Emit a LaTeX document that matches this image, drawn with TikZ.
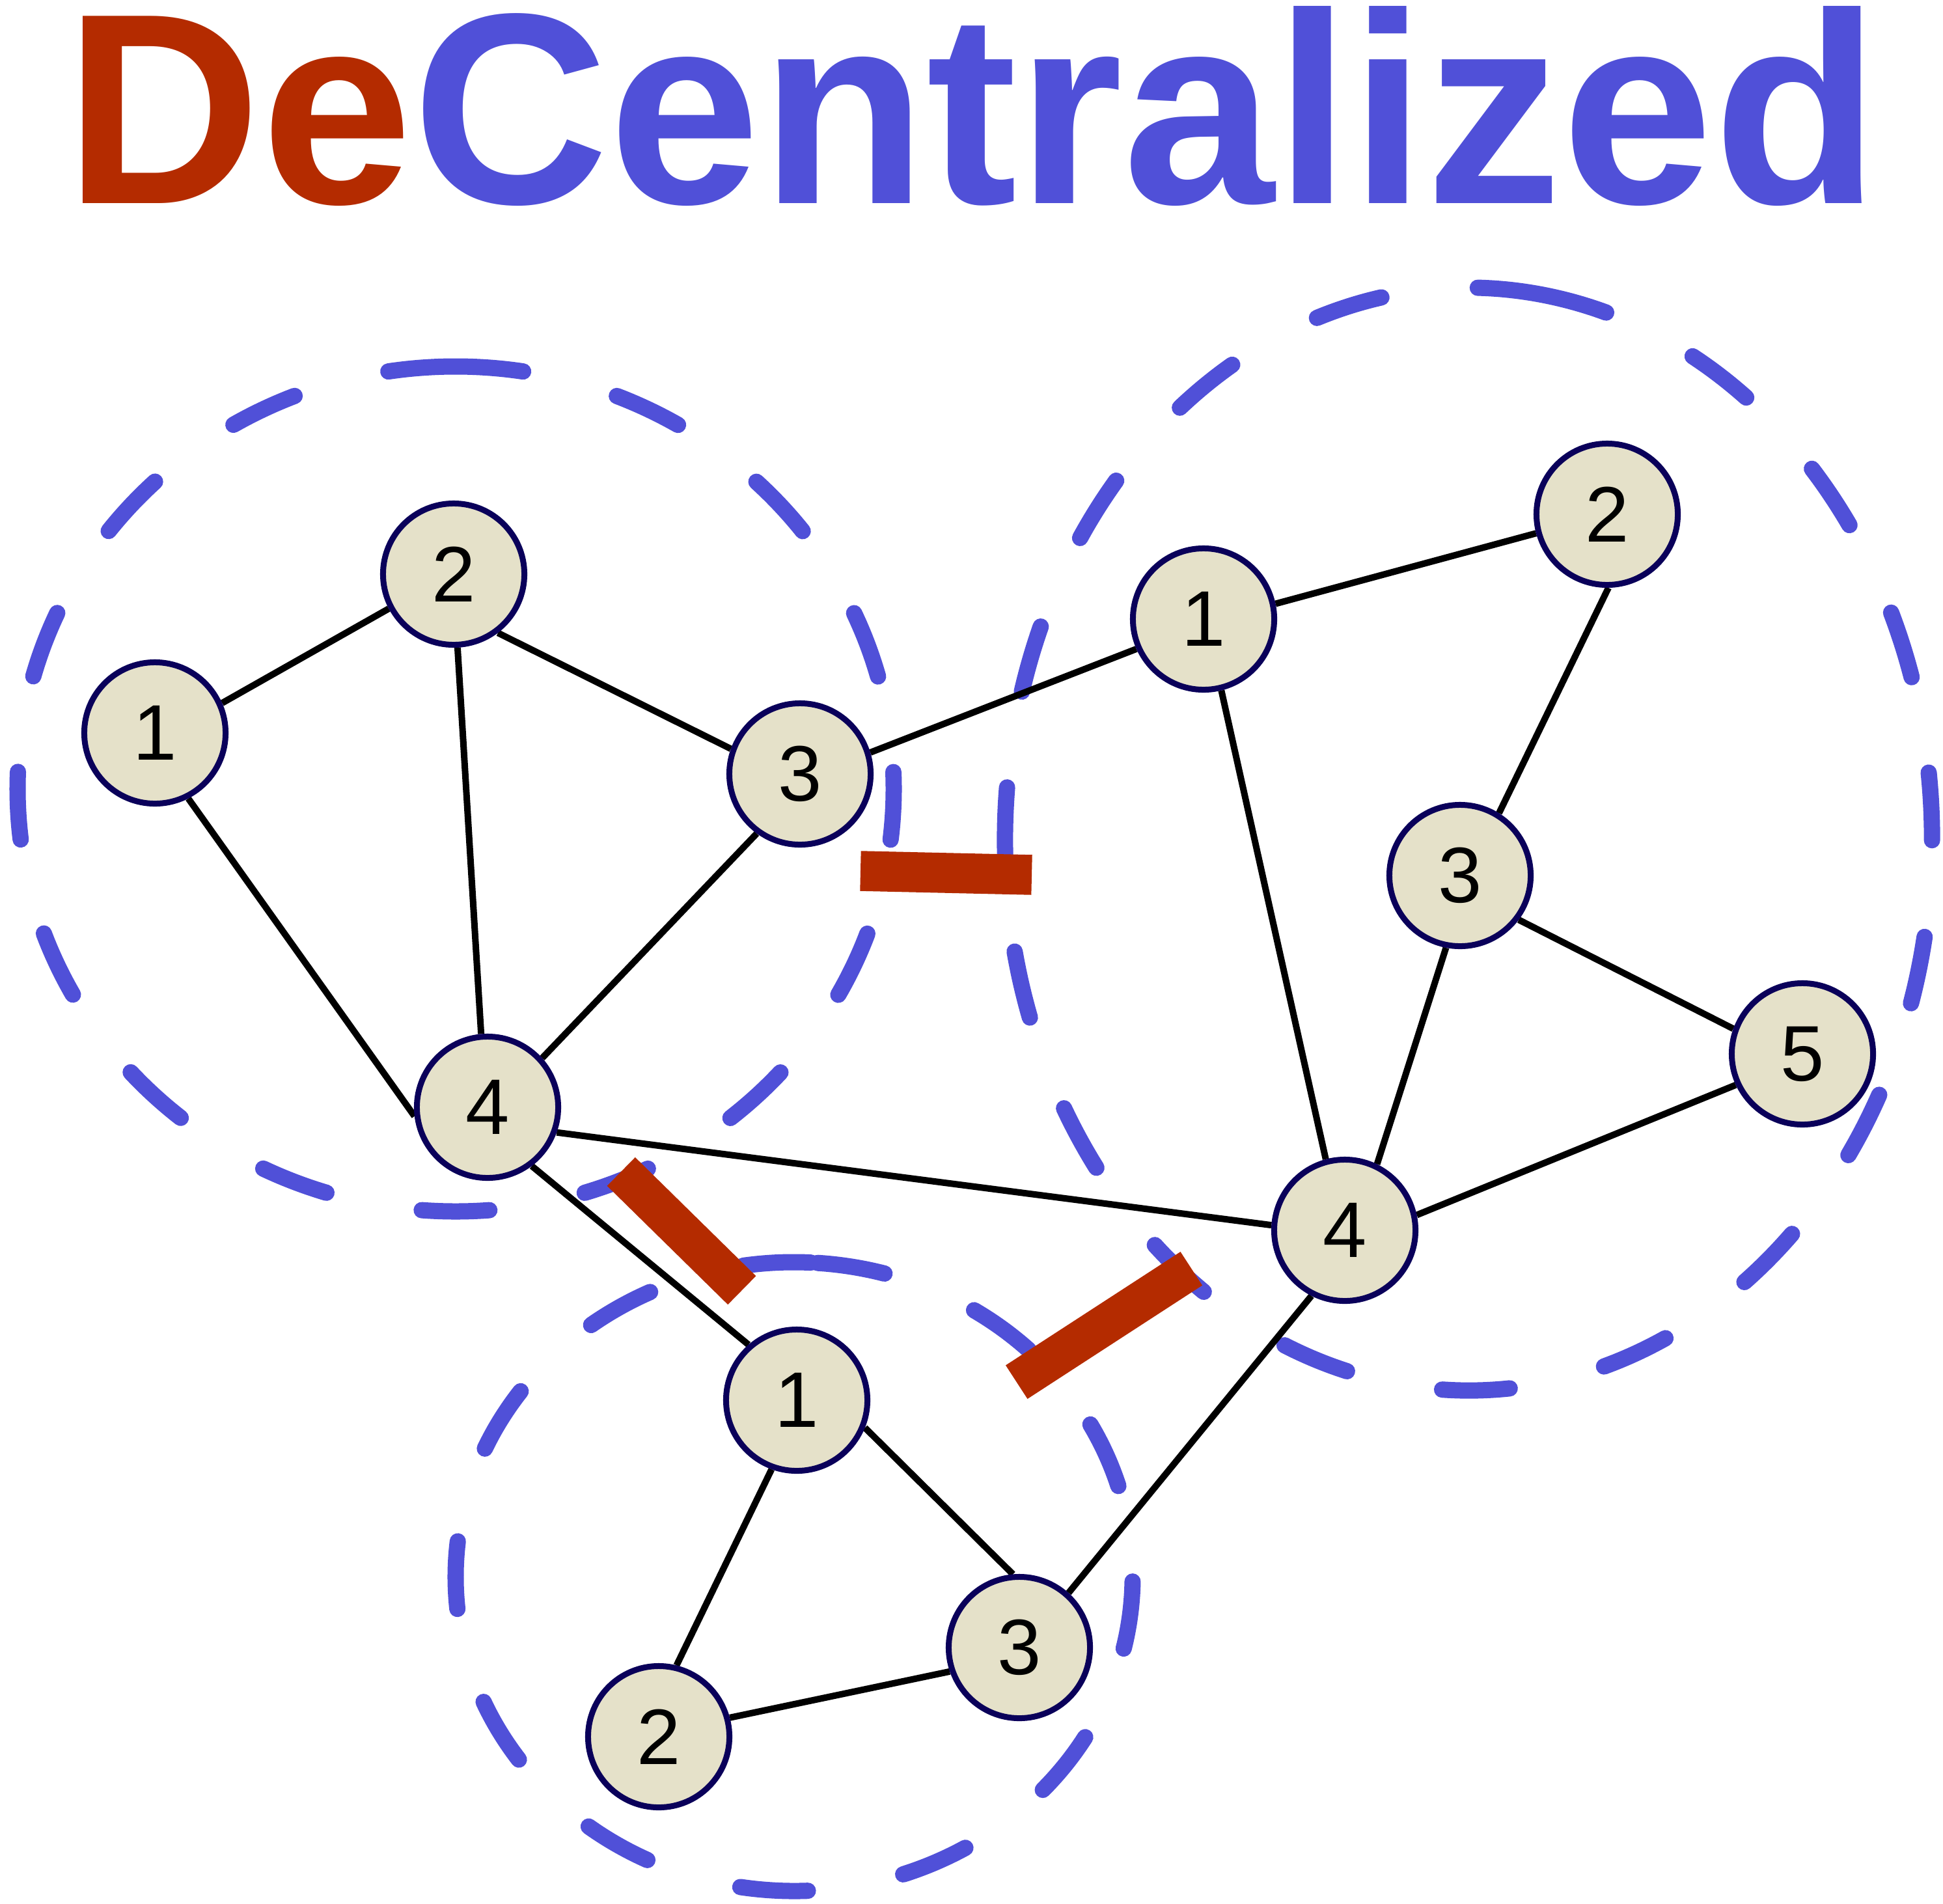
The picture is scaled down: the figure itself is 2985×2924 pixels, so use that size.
\documentclass[tikz,border=0pt]{standalone}
\usepackage{fontspec}
\setmainfont{Liberation Sans}
\definecolor{tred}{RGB}{180,43,0}
\definecolor{tblue}{RGB}{80,80,216}
\definecolor{nfill}{RGB}{229,225,201}
\definecolor{nborder}{RGB}{10,0,90}
\pgfdeclarelayer{bg}
\pgfdeclarelayer{edgelayer}
\pgfdeclarelayer{fg}
\pgfsetlayers{bg,edgelayer,main,fg}
\tikzset{
  netnode/.style={circle, draw=nborder, fill=nfill, line width=0.09cm, minimum size=2.17cm, inner sep=0pt, font=\fontsize{34.4pt}{36pt}\selectfont},
  link/.style={line width=0.1cm, draw=black},
  cluster/.style={draw=tblue, line width=0.25cm, line cap=round, dash pattern=on 1.04cm off 1.49cm},
  cut/.style={fill=tred, inner sep=0pt, outer sep=0pt, minimum height=0.615cm},
}
\begin{document}
\begin{tikzpicture}[x=0.01cm, y=-0.01cm]
\useasboundingbox (0,0) rectangle (2985,2924);
\begin{pgfonlayer}{bg}
  \fill[white] (0,0) rectangle (2985,2924);
  \draw[cluster] (700,1212) ++(-90:673 and 649) arc[start angle=-90, end angle=270, x radius=673, y radius=649];
  \draw[cluster] (2256,1289) ++(-81:712 and 847) arc[start angle=-81, end angle=279, x radius=712, y radius=847];
  \draw[cluster] (1220,2422) ++(-86:520 and 483) arc[start angle=-86, end angle=274, x radius=520, y radius=483];
\end{pgfonlayer}

\node[anchor=base, inner sep=0pt, font=\fontsize{118.9pt}{120pt}\selectfont\bfseries] (title) at (1493.5,312) {\textcolor{tred}{De}\textcolor{tblue}{Centralized}};

\node[netnode] (L1) at (238,1126) {1};
\node[netnode] (L2) at (697,882) {2};
\node[netnode] (L3) at (1229,1189) {3};
\node[netnode] (L4) at (749,1701) {4};
\node[netnode] (R1) at (1849,951) {1};
\node[netnode] (R2) at (2469,790) {2};
\node[netnode] (R3) at (2243,1345) {3};
\node[netnode] (R4) at (2066,1890) {4};
\node[netnode] (R5) at (2769,1619) {5};
\node[netnode] (B1) at (1224,2151) {1};
\node[netnode] (B2) at (1012,2668) {2};
\node[netnode] (B3) at (1566,2531) {3};

\begin{pgfonlayer}{edgelayer}
  \draw[link] (L1.24) -- (L2.-152);
  \draw[link] (L1.-63) -- (L4.-173);
  \draw[link] (L2.-53) -- (L3.160);
  \draw[link] (L2.-87) -- (L4.95);
  \draw[link] (L3.-126) -- (L4.42);
  \draw[link] (L3.17) -- (R1.-156);
  \draw[link] (L4.-20) -- (R4.176);
  \draw[link] (L4.-53) -- (B1.131);
  \draw[link] (R1.12) -- (R2.-165);
  \draw[link] (R1.-76) -- (R4.105);
  \draw[link] (R2.-89) -- (R3.58);
  \draw[link] (R3.-101) -- (R4.64);
  \draw[link] (R3.-37) -- (R5.160);
  \draw[link] (R5.-155) -- (R4.12);
  \draw[link] (R4.-117) -- (B3.48);
  \draw[link] (B1.-22) -- (B3.95);
  \draw[link] (B1.-110) -- (B2.76);
  \draw[link] (B2.15) -- (B3.-161);
\end{pgfonlayer}

\begin{pgfonlayer}{fg}
  \node[cut, minimum width=2.63cm, rotate=-1.3] (cut1) at (1453.5,1341) {};
  \node[cut, minimum width=2.60cm, rotate=-44.5] (cut2) at (1047,1891) {};
  \node[cut, minimum width=3.20cm, rotate=33] (cut3) at (1696,2036) {};
\end{pgfonlayer}
\end{tikzpicture}
\end{document}
